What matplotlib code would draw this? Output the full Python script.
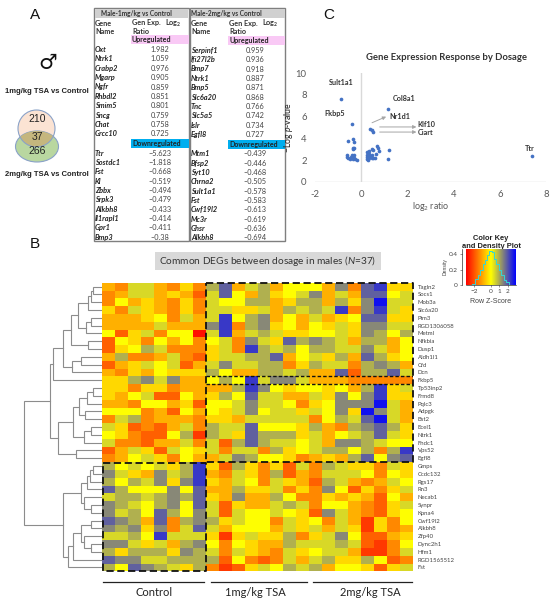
#!/usr/bin/env python3
import numpy as np
import matplotlib
matplotlib.use('Agg')
import matplotlib.pyplot as plt
from matplotlib.colors import LinearSegmentedColormap
from matplotlib.patches import Ellipse, Rectangle

W, H = 550, 607
plt.rcParams['font.family'] = ['Lato', 'DejaVu Sans']
plt.rcParams['mathtext.fontset'] = 'custom'
plt.rcParams['mathtext.rm'] = 'Lato'
plt.rcParams['mathtext.it'] = 'Lato:italic'
plt.rcParams['mathtext.bf'] = 'Lato:bold'
plt.rcParams['mathtext.default'] = 'regular'

### table data
up_genes_1 = ['Oxt', 'Ntrk1', 'Crabp2', 'Mgarp', 'Ngfr', 'Rhbdl2', 'Smim5', 'Sncg', 'Chat', 'Grcc10']
up_vals_1 = ['1.982', '1.059', '0.976', '0.905', '0.859', '0.851', '0.801', '0.759', '0.758', '0.725']
down_genes_1 = ['Ttr', 'Sostdc1', 'Fst', 'Kl', 'Zbbx', 'Srpk3', 'Alkbh8', 'Il1rapl1', 'Gpr1', 'Bmp3']
down_vals_1 = ['−5.623', '−1.818', '−0.668', '−0.519', '−0.494', '−0.479', '−0.433', '−0.414', '−0.411', '−0.38']
up_genes_2 = ['Serpinf1', 'Ifi27l2b', 'Bmp7', 'Ntrk1', 'Bmp5', 'Slc6a20', 'Tnc', 'Slc5a5', 'Islr', 'Egfl8']
up_vals_2 = ['0.959', '0.936', '0.918', '0.887', '0.871', '0.868', '0.766', '0.742', '0.734', '0.727']
down_genes_2 = ['Mtm1', 'Bfsp2', 'Syt10', 'Chrna2', 'Sult1a1', 'Fst', 'Cwf19l2', 'Mc3r', 'Ghsr', 'Alkbh8']
down_vals_2 = ['−0.439', '−0.446', '−0.468', '−0.505', '−0.578', '−0.583', '−0.613', '−0.619', '−0.636', '−0.694']

### volcano data
volcano_x = [-0.88, 1.15, -0.4, 0.4, 0.45, 0.5, -0.55, -0.35, -0.33, -0.35, -0.3, -0.35, 0.7, 0.72,
             0.45, 0.5, 0.3, 0.35, 0.78, 0.65, 1.22, 1.15, 7.4, -0.6, -0.6, -0.55, -0.5, -0.45, -0.4,
             -0.35, -0.3, -0.35, -0.3, -0.25, -0.2, 0.25, 0.25, 0.25, 0.25, 0.3, 0.35, 0.4, 0.45,
             0.35, 0.5, 0.6, 0.3, 0.45]
volcano_y = [7.65, 6.75, 5.3, 4.85, 4.75, 4.6, 3.75, 3.9, 3.7, 3.15, 3.1, 3.0, 3.25, 3.15,
             3.0, 2.9, 2.7, 2.8, 2.8, 2.6, 2.9, 2.05, 2.4, 2.5, 2.3, 2.2, 2.05, 2.3, 2.5,
             2.4, 2.2, 2.05, 2.45, 2.1, 2.0, 2.7, 2.5, 2.3, 2.1, 2.0, 2.2, 2.4, 2.5,
             2.6, 2.2, 2.2, 2.4, 2.15]

### heatmap data, colour levels 0 (red) .. 6 (yellow) .. C (blue)
row_genes = ['Tagln2', 'Socs1', 'Mob3a', 'Slc6a20', 'Pim3', 'RGD1306058', 'Metml', 'Nfkbia', 'Dusp1',
             'Aldh1l1', 'Cfd', 'Dcn', 'Fkbp5', 'Tp53inp2', 'Frmd8', 'Pqlc3', 'Adpgk', 'Bst2', 'Ecel1',
             'Ntrk1', 'Fhdc1', 'Vps52', 'Egfl8', 'Gmps', 'Ccdc132', 'Rgs17', 'Rn3', 'Necab1', 'Synpr',
             'Kpna4', 'Cwf19l2', 'Alkbh8', 'Zfp40', 'Dync2h1', 'Hfm1', 'RGD1565512', 'Fst']
control_levels = ['43774353', '34774542', '36454353', '53754353', '44456374', '44447444', '62573660',
                  '26536463', '25687333', '48334732', '24576724', '43546555', '55897944', '55355344',
                  '54672264', '44366452', '66634264', '37834443', '75232473', '65322681', '73324473',
                  '24752765', '34675364', '8676758B', '9754978B', '8687959B', 'A866696A', '7887898A',
                  '9876896A', '9786A869', 'A984A389', '9895937A', '7786B777', '99757489', '85888598',
                  'A9977888', '86A98758']
tsa1_levels = ['8A478466', '7A648567', '76688458', '77557487', '7B689464', '9B389564', '7B478755',
               '673975A8', '573B8786', '57788A46', '79778835', '86448878', '686B7997', '448B9656',
               '586A7744', '66797763', '65796775', '55477777', '877A6665', '875A8885', '728A8776',
               '73773856', '47986653', '52853527', '43753824', '54763754', '44855735', '54944863',
               '72544787', '72766765', '85766375', '74666475', '51575583', '63654487', '73754375',
               '82632374', '31257687']
tsa2_levels = ['6493AB55', '9474AA67', '84859C77', '87B39B75', '7456AA55', '65759977', '66759868',
               '98748846', '88779746', '7584A856', '87738984', '44A288A7', '44433333', '65648B57',
               '75969B55', '56999C74', '7695C974', '3687AC74', '84389A85', '74678A75', '74998766',
               '7886838B', '4548A69A', '38755375', '37776365', '28743476', '39625357', '35454264',
               '36643257', '29743256', '63741536', '74751534', '57962245', '77872136', '67741137',
               '78558623', '84665257']
group_labels = ['Control', '1mg/kg TSA', '2mg/kg TSA']

# row tree: (merge distance, left, right), ints are row indices
upper_a = (24.3, (14, (11, (9, 0, 1), 2), 3), (16, (11, 4, 5), 6))
upper_b = (39.3, (31, upper_a, (14, 7, 8)), (30, (21, 9, 10), 11))
middle = (44, (29.3, (23, (15, (9, 13, 14), 15), (17, 16, 17)), (18, (11, 18, 19), 20)), (26, 21, 22))
lower_a = (21, (15, (12, (9, 23, 24), 25), 26), (18, 27, (11, 28, 29)))
lower_b = (34, (29, (21.3, (11, 30, 31), (18, 32, (11, 33, 34))), 35), 36)
row_tree = (78, (52, (49.3, upper_b, 12), middle), (39, lower_a, lower_b))

### colour key data
key_z = [-2.4, -2.0, -1.7, -1.4, -1.1, -0.8, -0.5, -0.3, -0.1, 0.1, 0.3, 0.5, 0.8, 1.1, 1.4, 1.7, 2.0, 2.4, 2.7]
key_density = [0.0, 0.02, 0.08, 0.13, 0.2, 0.27, 0.32, 0.38, 0.44, 0.43, 0.42, 0.33, 0.27, 0.2, 0.13, 0.07, 0.04, 0.01, 0.0]


def px_axes(fig, x0, y0, x1, y1):
    return fig.add_axes([x0 / W, 1 - y1 / H, (x1 - x0) / W, (y1 - y0) / H])


def draw_tree(ax, node):
    # returns (row position, distance) of the node
    if not isinstance(node, tuple):
        return node + 0.5, 0
    dist, left, right = node
    y0, d0 = draw_tree(ax, left)
    y1, d1 = draw_tree(ax, right)
    ax.plot([-d0, -dist, -dist, -d1], [y0, y0, y1, y1], color='#8c8c8c', lw=0.8, solid_joinstyle='miter')
    return (y0 + y1) / 2, dist


def draw_table(ax, x0, x1, band_x, name_x, val_x, title, title_x, up_genes, up_vals, down_genes, down_vals, dy):
    ax.add_patch(Rectangle((x0, 8), x1 - x0, 233, fc='white', ec='#7f7f7f', lw=1.0))
    ax.add_patch(Rectangle((x0 + 0.5, 8.5), x1 - x0 - 1, 9, fc='#d0d0d0', ec='none'))
    ax.text(title_x, 13.5, title, ha='center', va='center', fontsize=4.7, fontweight='bold', color='#333333')
    ax.text(name_x, 23 + dy, 'Gene', va='center', fontsize=5.2, fontweight='bold', color='#333333')
    ax.text(name_x, 31 + dy, 'Name', va='center', fontsize=5.2, fontweight='bold', color='#333333')
    ax.text(band_x + 1, 23 + dy, 'Gen Exp.', va='center', fontsize=5.2, fontweight='bold', color='#333333')
    ax.text(band_x + 1, 31 + dy, 'Ratio', va='center', fontsize=5.2, fontweight='bold', color='#333333')
    ax.text(band_x + 34, 23 + dy, r'Log$_2$', va='center', fontsize=5.2, fontweight='bold', color='#333333')
    ax.add_patch(Rectangle((band_x, 35 + dy), x1 - band_x, 9, fc='#f9c9f5', ec='none'))
    ax.text(band_x + 1, 39.7 + dy, 'Upregulated', va='center', fontsize=5.1, fontweight='bold', color='#222222')
    ax.add_patch(Rectangle((band_x, 139 + dy), x1 - band_x, 9, fc='#00aeef', ec='none'))
    ax.text(band_x + 1, 143.8 + dy, 'Downregulated', va='center', fontsize=5.0, fontweight='bold', color='#222222')
    for i, (g, v) in enumerate(zip(up_genes, up_vals)):
        y = 49.6 + dy + i * 9.35
        ax.text(name_x, y, g, va='center', fontsize=5.3, fontweight='bold', style='italic', color='#222222')
        ax.text(val_x, y, v, ha='center', va='center', fontsize=5.3, color='#444444')
    for i, (g, v) in enumerate(zip(down_genes, down_vals)):
        y = 153 + dy + i * 9.35
        ax.text(name_x, y, g, va='center', fontsize=5.3, fontweight='bold', style='italic', color='#222222')
        ax.text(val_x, y, v, ha='center', va='center', fontsize=5.3, color='#444444')


fig = plt.figure(figsize=(W / 100, H / 100), dpi=100)

### page layer in pixel coordinates
page = fig.add_axes([0, 0, 1, 1])
page.set_xlim(0, W)
page.set_ylim(H, 0)
page.axis('off')

for letter, x, y in [('A', 35, 15), ('B', 35, 244), ('C', 329, 15)]:
    page.text(x, y, letter, ha='center', va='center', fontsize=11, family='Liberation Sans', color='#111111')

# panel A, venn
page.text(48, 63, '♂', ha='center', va='center', fontsize=15, family='DejaVu Sans', color='#111111')
page.text(46.5, 91.5, '1mg/kg TSA vs Control', ha='center', va='center', fontsize=5.5,
          fontweight='bold', family='Liberation Sans', color='#222222')
page.text(46.5, 174, '2mg/kg TSA vs Control', ha='center', va='center', fontsize=5.5,
          fontweight='bold', family='Liberation Sans', color='#222222')
top_circle = Ellipse((36.5, 128.5), 37, 37, fc='#fbe3d3', ec='#8aa2c8', lw=0.8, zorder=2)
low_circle = Ellipse((37, 146.5), 43, 31, fc='#b9d7a0', ec='#8aa2c8', lw=0.8, zorder=3)
page.add_patch(top_circle)
page.add_patch(low_circle)
overlap = Ellipse((36.5, 128.5), 37, 37, fc='#c5b67e', ec='#8aa2c8', lw=0.8, zorder=4)
page.add_patch(overlap)
overlap.set_clip_path(low_circle)
for label, y in [('210', 118.5), ('37', 136.5), ('266', 151.5)]:
    page.text(37, y, label, ha='center', va='center', fontsize=7.5, family='Liberation Sans', color='#222222', zorder=5)

# panel A, tables
draw_table(page, 94, 188.5, 131, 95, 160, 'Male-1mg/kg vs Control', 136.5,
           up_genes_1, up_vals_1, down_genes_1, down_vals_1, 0)
draw_table(page, 190, 285, 228, 191, 255, 'Male-2mg/kg vs Control', 226.5,
           up_genes_2, up_vals_2, down_genes_2, down_vals_2, 0.7)

# panel B title and group bars
page.add_patch(Rectangle((155, 252.3), 226, 17.7, fc='#d9d9d9', ec='none'))
page.text(268, 261, r'Common DEGs between dosage in males ($\mathit{N}$=37)', ha='center', va='center',
          fontsize=7.3, color='#333333')
for label, x0, x1, xc in zip(group_labels, [103, 211, 313], [204, 307, 412], [154, 255, 370]):
    page.plot([x0, x1], [582, 582], color='#222222', lw=0.9)
    page.text(xc, 593, label, ha='center', va='center', fontsize=8, color='#222222')

# panel C title
page.text(446, 58, 'Gene Expression Response by Dosage', ha='center', va='center', fontsize=6.8,
          fontweight='bold', color='#333333')

### panel C
ax_v = px_axes(fig, 315, 73.3, 546, 181.7)
ax_v.patch.set_alpha(0)
ax_v.set_xlim(-2, 8)
ax_v.set_ylim(0, 10)
for s in ax_v.spines.values():
    s.set_visible(False)
ax_v.axvline(0, color='#d9d9d9', lw=1.0, zorder=1)
ax_v.axhline(0, color='#d9d9d9', lw=1.0, zorder=1)
ax_v.scatter(volcano_x, volcano_y, s=7, color='#4472c4', zorder=3, linewidths=0)
ax_v.set_xticks(np.arange(-2, 9, 2))
ax_v.set_xticklabels(['-2', '0', '2', '4', '6', '8'])
ax_v.set_yticks(np.arange(0, 11, 2))
ax_v.tick_params(length=0, labelsize=6.8, labelcolor='#595959', pad=6)
ax_v.set_xlabel(r'log$_2$ ratio', fontsize=6.4, color='#595959', labelpad=1)
ax_v.set_ylabel(r'$-$Log $\mathit{p}$-value', fontsize=6.2, color='#222222')
ax_v.yaxis.set_label_coords(-0.088, 0.5)
for name, x, y in [('Sult1a1', -0.87, 9.17), ('Col8a1', 1.85, 7.72), ('Fkbp5', -1.16, 6.27), ('Nr1d1', 1.69, 6.06),
                   ('Klf10', 2.8, 5.29), ('Ciart', 2.78, 4.56), ('Ttr', 7.3, 3.02)]:
    ax_v.text(x, y, name, ha='center', va='center', fontsize=5.2, fontweight='bold', color='#333333')
for start, end in [((0.47, 5.44), (1.08, 6.0)), ((0.8, 5.05), (2.39, 5.05)), ((0.8, 4.58), (2.39, 4.58))]:
    ax_v.annotate('', xy=end, xytext=start,
                  arrowprops=dict(arrowstyle='-|>', color='#a6a6a6', lw=0.7, mutation_scale=5, shrinkA=0, shrinkB=0))

### panel B heatmap
rows = [c + a + b for c, a, b in zip(control_levels, tsa1_levels, tsa2_levels)]
levels = np.array([[int(ch, 16) for ch in row] for row in rows], dtype=float)
z_scores = (levels - 6) * 2.5 / 6 * 0.93
heat_cmap = LinearSegmentedColormap.from_list('ryb', ['#ff0000', '#ffff00', '#0000ff'])

ax_h = px_axes(fig, 102, 282.7, 413, 571.3)
ax_h.pcolormesh(np.arange(25), np.arange(38), z_scores, cmap=heat_cmap, vmin=-2.5, vmax=2.5)
ax_h.set_ylim(37, 0)
ax_h.set_xticks([])
ax_h.yaxis.tick_right()
ax_h.set_yticks(np.arange(37) + 0.5)
ax_h.set_yticklabels(row_genes)
ax_h.tick_params(axis='y', length=0, labelsize=4.3, labelcolor='#444444', pad=3.5)
for s in ax_h.spines.values():
    s.set_visible(False)

# dashed boxes on the heatmap
dash = dict(color='#111111', lw=1.3, ls=(0, (4, 2)), clip_on=False)
ax_h.plot([8, 24, 24, 8, 8], [0.05, 0.05, 23, 23, 0.05], **dash)
ax_h.plot([0.1, 8, 8, 0.1, 0.1], [23.1, 23.1, 37, 37, 23.1], **dash)
ax_h.plot([8, 24], [12, 12], color='#111111', lw=1.0, ls=(0, (2.5, 1.5)))
ax_h.plot([8, 24], [13, 13], color='#111111', lw=1.0, ls=(0, (2.5, 1.5)))

# row dendrogram
ax_d = px_axes(fig, 0, 282.7, 102, 571.3)
ax_d.set_xlim(-102, 0)
ax_d.set_ylim(37, 0)
ax_d.axis('off')
draw_tree(ax_d, row_tree)

### colour key
ax_k = px_axes(fig, 466, 248.7, 516, 285.3)
ax_k.imshow(np.linspace(-2.95, 3.0, 256)[None, :], aspect='auto', cmap=heat_cmap, vmin=-2.95, vmax=3.0,
            extent=[-2.95, 3.0, 0, 0.465])
ax_k.step(key_z, key_density, where='mid', color='#33d6d6', lw=0.7)
ax_k.set_xlim(-2.95, 3.0)
ax_k.set_ylim(0, 0.465)
ax_k.set_xticks([-2, 0, 1, 2])
ax_k.set_yticks([0, 0.2, 0.4])
ax_k.set_yticklabels(['0', '0.2', '0.4'], rotation=90, va='center')
ax_k.tick_params(labelsize=4.6, length=1.5, width=0.4, pad=1.5, labelcolor='#444444', color='#444444')
ax_k.spines['top'].set_visible(False)
ax_k.spines['right'].set_visible(False)
ax_k.spines['left'].set_position(('outward', 3))
ax_k.spines['left'].set_linewidth(0.4)
ax_k.spines['bottom'].set_linewidth(0.4)
ax_k.set_xlabel('Row Z-Score', fontsize=5, color='#444444', labelpad=2.5, family='Liberation Sans')
ax_k.set_ylabel('Density', fontsize=3.6, color='#444444', labelpad=1, family='Liberation Sans')
page.text(491, 238, 'Color Key', ha='center', va='center', fontsize=5.4, fontweight='bold', family='Liberation Sans', color='#222222')
page.text(491, 246.3, 'and Density Plot', ha='center', va='center', fontsize=5.4, fontweight='bold', family='Liberation Sans', color='#222222')

fig.savefig('out.png', dpi=100)
